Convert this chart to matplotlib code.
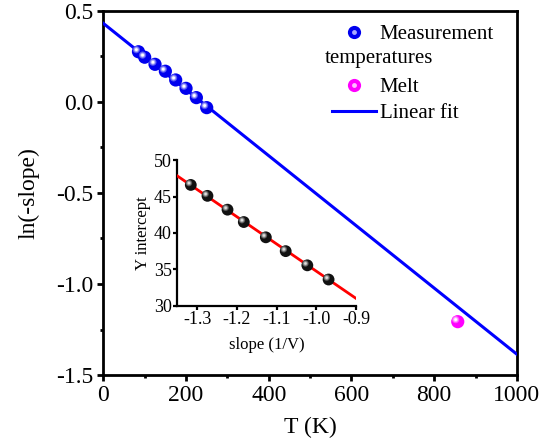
import numpy as np
import matplotlib
matplotlib.use("Agg")
from matplotlib import pyplot as plt
from matplotlib.legend_handler import HandlerTuple
from matplotlib.lines import Line2D
import matplotlib.transforms as mtransforms

plt.rcParams['font.family'] = ['Liberation Serif', 'DejaVu Serif']

# main panel data
meas_T = [85, 100, 125, 150, 175, 200, 225, 250]
meas_ln = [0.276, 0.246, 0.207, 0.169, 0.121, 0.075, 0.024, -0.031]
melt_T = [857]
melt_ln = [-1.207]
fit_b = 0.432
fit_m = -0.001818
fit_T = [0, 1000]

# inset data
ins_slope = [-1.316, -1.274, -1.2235, -1.1825, -1.127, -1.077, -1.0225, -0.969]
ins_int = [46.6, 45.1, 43.2, 41.5, 39.4, 37.5, 35.55, 33.6]
ins_fit_x = [-1.35, -0.9]
ins_fit_b = -2.65
ins_fit_m = -37.4


def spheres(ax, x, y, color, light, size, z=5):
    ax.scatter(x, y, s=size**2, color=color, zorder=z, edgecolors='none')
    off = mtransforms.ScaledTranslation(-size * 0.16 / 72, size * 0.16 / 72,
                                        ax.figure.dpi_scale_trans)
    for k, f in enumerate([0.55, 0.38, 0.22]):
        c = np.array(matplotlib.colors.to_rgb(color)) * (1 - (k + 1) / 3) + \
            np.array(matplotlib.colors.to_rgb(light)) * ((k + 1) / 3)
        ax.scatter(x, y, s=(size * f)**2, color=c, zorder=z + 1 + k,
                   edgecolors='none', transform=ax.transData + off)


fig = plt.figure(figsize=(5.57, 4.45), dpi=100)
ax = fig.add_axes([0.1855, 0.1573, 0.7425, 0.818])

fx = np.array(fit_T)
ax.plot(fx, fit_b + fit_m * fx, color='#0000ff', lw=2.2, zorder=3)
spheres(ax, meas_T, meas_ln, '#0000ee', 'white', 9.5)
spheres(ax, melt_T, melt_ln, '#ff00ff', 'white', 9.5)

ax.set_xlim(0, 1000)
ax.set_ylim(-1.5, 0.5)
ax.set_xticks([0, 200, 400, 600, 800, 1000])
ax.set_xticks([100, 300, 500, 700, 900], minor=True)
ax.set_yticks([-1.5, -1.0, -0.5, 0.0, 0.5])
ax.set_yticks([-1.25, -0.75, -0.25, 0.25], minor=True)
ax.set_yticklabels(['-1.5', '-1.0', '-0.5', '0.0', '0.5'])
ax.tick_params(which='major', direction='out', length=4, width=2, labelsize=17, pad=3)
ax.tick_params(which='minor', direction='out', length=2, width=2)
for s in ax.spines.values():
    s.set_linewidth(2)
ax.set_xlabel('T (K)', fontsize=17, labelpad=8)
ax.set_ylabel('ln(-slope)', fontsize=17, labelpad=12)

# legend
h_meas = (Line2D([], [], ls='none', marker='o', ms=9.5, color='#0000ee', mec='none'),
          Line2D([], [], ls='none', marker='o', ms=3.5, color='#aaaaff', mec='none'))
h_blank = Line2D([], [], ls='none')
h_melt = (Line2D([], [], ls='none', marker='o', ms=9.5, color='#ff00ff', mec='none'),
          Line2D([], [], ls='none', marker='o', ms=3.5, color='#ffbbff', mec='none'))
h_fit = Line2D([], [], color='#0000ff', lw=2.2)
leg = ax.legend([h_meas, h_blank, h_melt, h_fit],
                ['Measurement', ' ', 'Melt', 'Linear fit'],
                handler_map={tuple: HandlerTuple(ndivide=1)},
                loc='upper left', bbox_to_anchor=(0.52, 1.0), frameon=False,
                fontsize=15, handlelength=2.1, handletextpad=0.2,
                labelspacing=0.33, borderaxespad=0.25)
ax.text(325 / 557, 1 - 58 / 445, 'temperatures', transform=fig.transFigure,
        fontsize=15, ha='left', va='center')

# inset
axi = fig.add_axes([0.3183, 0.313, 0.3208, 0.327])
ix = np.array(ins_fit_x)
axi.plot(ix, ins_fit_b + ins_fit_m * ix, color='#ff0000', lw=2, zorder=3)
spheres(axi, ins_slope, ins_int, '#111111', '#dddddd', 8.5)
axi.set_xlim(-1.35, -0.9)
axi.set_ylim(30, 50)
axi.set_xticks([-1.3, -1.2, -1.1, -1.0, -0.9])
axi.set_xticklabels(['-1.3', '-1.2', '-1.1', '-1.0', '-0.9'])
axi.set_yticks([30, 35, 40, 45, 50])
axi.spines['top'].set_visible(False)
axi.spines['right'].set_visible(False)
for s in ['left', 'bottom']:
    axi.spines[s].set_linewidth(1.6)
axi.tick_params(direction='out', length=3, width=1.6, labelsize=13, pad=1)
axi.set_xlabel('slope (1/V)', fontsize=12, labelpad=6)
axi.set_ylabel('Y intercept', fontsize=12, labelpad=2)
axi.patch.set_alpha(0)

fig.savefig('out.png', dpi=100)
